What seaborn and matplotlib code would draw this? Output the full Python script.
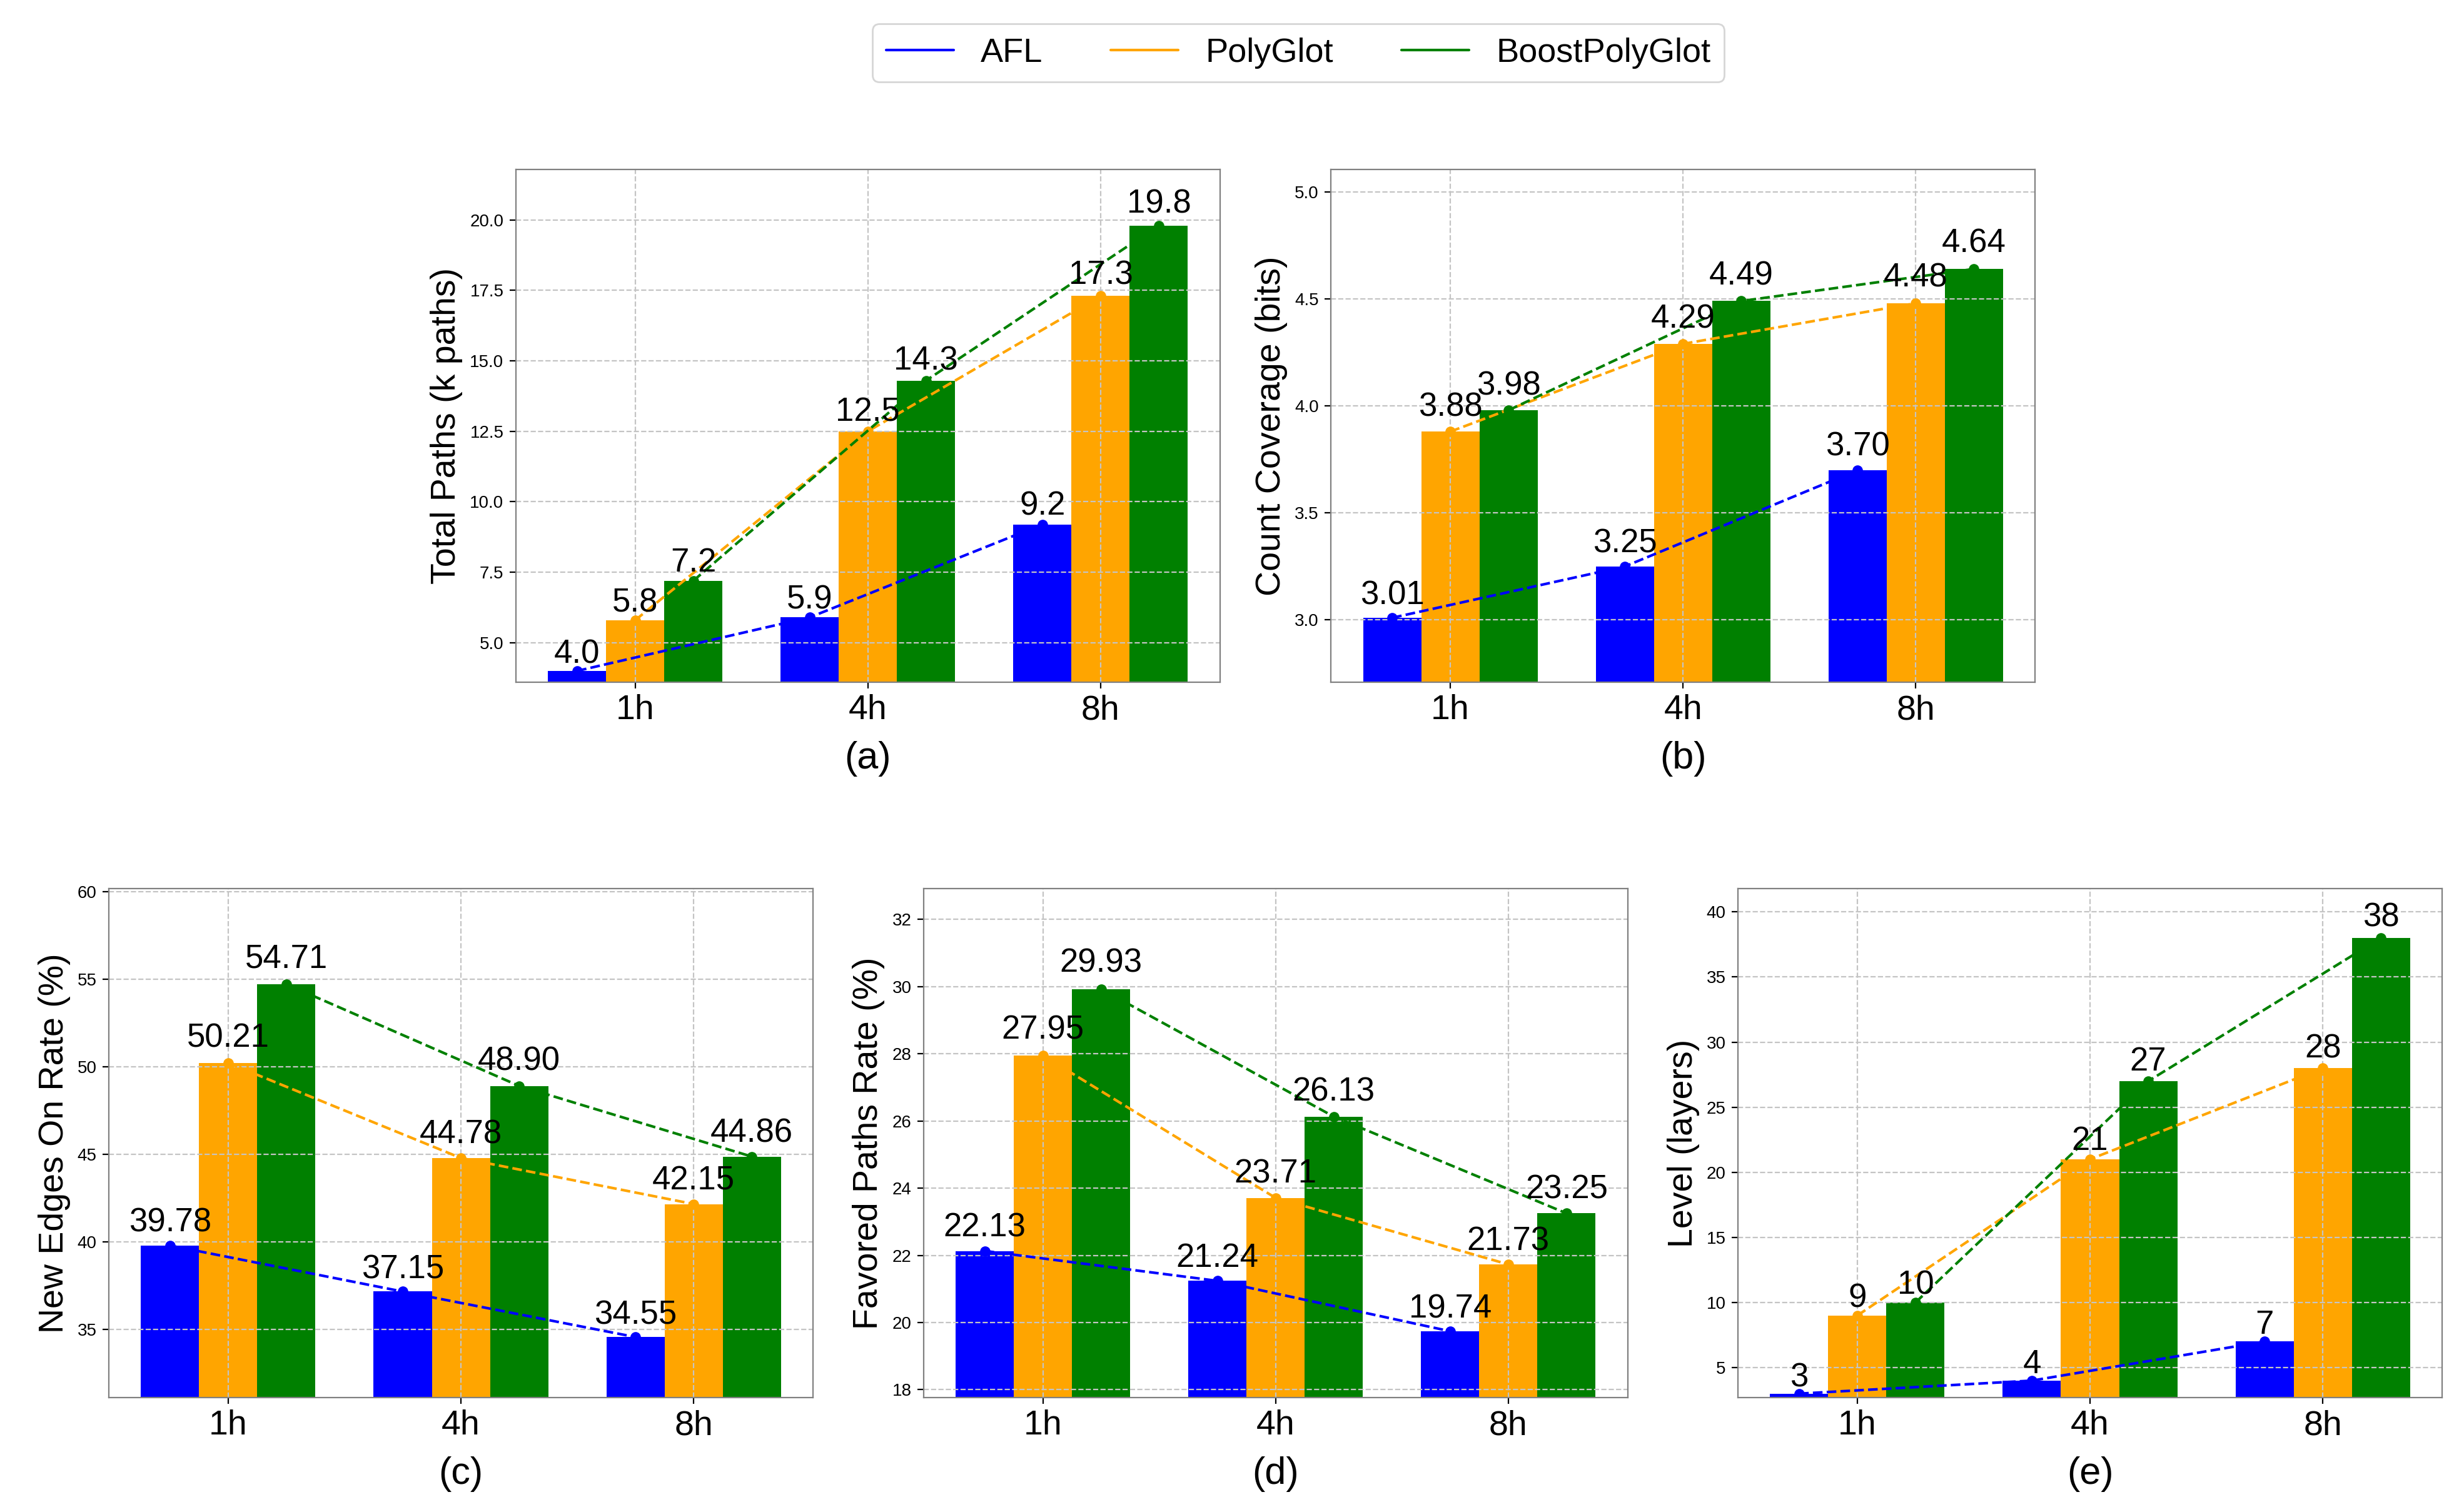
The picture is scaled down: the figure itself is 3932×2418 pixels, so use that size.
import numpy as np
import pandas as pd
import seaborn as sns
import matplotlib
matplotlib.use('Agg')
import matplotlib.pyplot as plt
from matplotlib.lines import Line2D

times = ['1h', '4h', '8h']
tools = ['AFL', 'PolyGlot', 'BoostPolyGlot']
colors = ['blue', 'orange', 'green']

total_paths_afl = [4.0, 5.9, 9.2]
total_paths_poly = [5.8, 12.5, 17.3]
total_paths_boost = [7.2, 14.3, 19.8]

count_cov_afl = [3.01, 3.25, 3.70]
count_cov_poly = [3.88, 4.29, 4.48]
count_cov_boost = [3.98, 4.49, 4.64]

new_edges_afl = [39.78, 37.15, 34.55]
new_edges_poly = [50.21, 44.78, 42.15]
new_edges_boost = [54.71, 48.90, 44.86]

favored_afl = [22.13, 21.24, 19.74]
favored_poly = [27.95, 23.71, 21.73]
favored_boost = [29.93, 26.13, 23.25]

level_afl = [3, 4, 7]
level_poly = [9, 21, 28]
level_boost = [10, 27, 38]

panels = [
    ('Total Paths (k paths)', '(a)', '{:.1f}', [total_paths_afl, total_paths_poly, total_paths_boost]),
    ('Count Coverage (bits)', '(b)', '{:.2f}', [count_cov_afl, count_cov_poly, count_cov_boost]),
    ('New Edges On Rate (%)', '(c)', '{:.2f}', [new_edges_afl, new_edges_poly, new_edges_boost]),
    ('Favored Paths Rate (%)', '(d)', '{:.2f}', [favored_afl, favored_poly, favored_boost]),
    ('Level (layers)', '(e)', '{:d}', [level_afl, level_poly, level_boost]),
]

sns.set_style('ticks', {
    'axes.edgecolor': 'gray',
    'axes.axisbelow': 'line',
    'axes.grid': True,
    'grid.linestyle': '--',
    'grid.color': '#c4c4c4',
    'text.color': 'black',
    'axes.labelcolor': 'black',
    'xtick.color': 'black',
    'ytick.color': 'black',
    'xtick.bottom': True,
    'ytick.left': True,
    'axes.spines.top': True,
    'axes.spines.right': True,
})
plt.rcParams['font.family'] = ['Liberation Sans', 'DejaVu Sans']

fig = plt.figure(figsize=(19.66, 12.09), dpi=200)

# top row has two centred panels, bottom row three
w, h_top, h_bot = 0.2863, 0.339, 0.3367
axes_rects = [
    [0.2098, 0.5488, w, h_top],
    [0.5413, 0.5488, w, h_top],
    [0.0443, 0.0757, w, h_bot],
    [0.3756, 0.0757, w, h_bot],
    [0.7068, 0.0757, w, h_bot],
]

bar_w = 0.25
for rect, (ylabel, xlabel, fmt, series) in zip(axes_rects, panels):
    ax = fig.add_axes(rect)
    df = pd.DataFrame({
        'time': np.tile(times, len(tools)),
        'tool': np.repeat(tools, len(times)),
        'value': np.concatenate(series),
    })
    sns.barplot(data=df, x='time', y='value', hue='tool', order=times, hue_order=tools,
                palette=colors, width=bar_w * len(tools), saturation=1,
                errorbar=None, legend=False, linewidth=0, ax=ax)

    for j, (vals, c) in enumerate(zip(series, colors)):
        xs = np.arange(len(times)) + (j - 1) * bar_w
        sns.lineplot(x=xs, y=vals, color=c, linestyle='--', linewidth=1.5,
                     marker='o', markersize=6, markeredgewidth=0, ax=ax, legend=False)
        for x, v in zip(xs, vals):
            ax.text(x, v * 1.01, fmt.format(v), ha='center', va='bottom', fontsize=19)

    allv = np.concatenate(series)
    ax.set_ylim(allv.min() * 0.9, allv.max() * 1.1)
    ax.set_xlim(-0.5125, len(times) - 1 + 0.5125)
    ax.grid(True, linestyle='--', color='#c4c4c4', linewidth=0.8)
    ax.set_xlabel(xlabel, fontsize=22, labelpad=8)
    ax.set_ylabel(ylabel, fontsize=20)
    ax.tick_params(axis='x', labelsize=20)
    ax.tick_params(axis='y', labelsize=10)

handles = [Line2D([0], [0], color=c, linewidth=1.5) for c in colors]
fig.legend(handles, tools, loc='center', bbox_to_anchor=(0.528, 0.965), ncol=3, fontsize=19.5)

fig.savefig('out.png', dpi=200)
